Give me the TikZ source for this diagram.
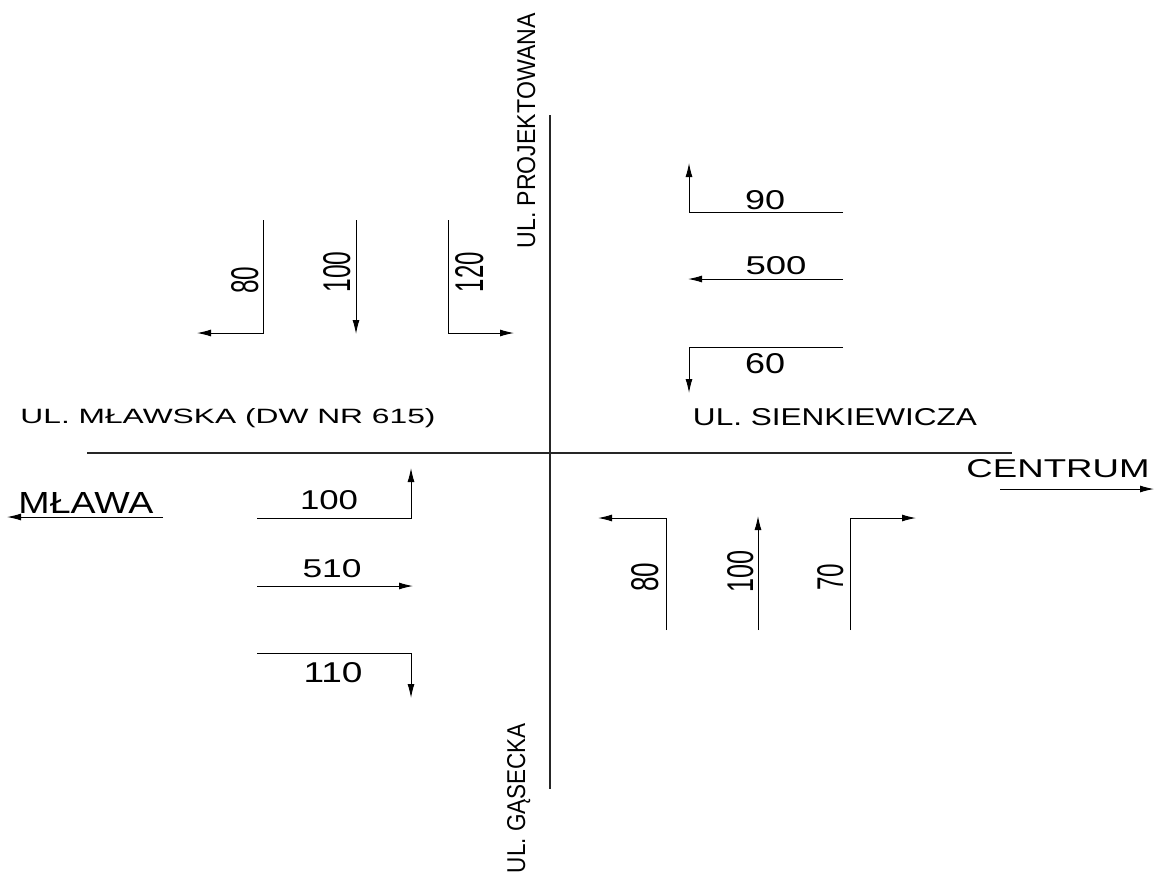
\documentclass[tikz,border=0pt]{standalone}
\usepackage{fontspec}
\setmainfont{Liberation Sans}
\usetikzlibrary{arrows.meta}
\newcommand{\lab}[3]{\resizebox{#1pt}{#2pt}{#3}}
\begin{document}
\begin{tikzpicture}[x=1pt,y=-1pt,
  road/.style={line width=1.1pt, black!85},
  mv/.style={line width=1pt, -{Latex[length=14pt,width=7pt]}},
  lbl/.style={inner sep=0pt, anchor=base},
  vlbl/.style={inner sep=0pt, anchor=base, rotate=90}]
\useasboundingbox (0,0) rectangle (1160,881);
\fill[white] (0,0) rectangle (1160,881);

% roads
\coordinate (nN) at (550,115); \coordinate (nS) at (550,789);
\coordinate (wW) at (87,453);  \coordinate (wE) at (1012,453);
\draw[road] (nN) -- (nS);
\draw[road] (wW) -- (wE);

% north approach
\coordinate (a1s) at (263,220); \coordinate (a1c) at (263,333); \coordinate (a1e) at (197,333);
\coordinate (a2s) at (356,220); \coordinate (a2e) at (356,334);
\coordinate (a3s) at (448,220); \coordinate (a3c) at (448,333); \coordinate (a3e) at (514,333);
\draw[mv] (a1s) -- (a1c) -- (a1e);
\draw[mv] (a2s) -- (a2e);
\draw[mv] (a3s) -- (a3c) -- (a3e);
\node[vlbl] (ta1) at (258,280) {\lab{27}{27}{80}};
\node[vlbl] (ta2) at (350,272) {\lab{41}{27}{100}};
\node[vlbl] (ta3) at (483,272) {\lab{40}{28}{120}};

% east approach
\coordinate (b1s) at (843,212); \coordinate (b1c) at (689,212); \coordinate (b1e) at (689,163);
\coordinate (b2s) at (843,279); \coordinate (b2e) at (688,279);
\coordinate (b3s) at (843,347); \coordinate (b3c) at (689,347); \coordinate (b3e) at (689,393);
\draw[mv] (b1s) -- (b1c) -- (b1e);
\draw[mv] (b2s) -- (b2e);
\draw[mv] (b3s) -- (b3c) -- (b3e);
\node[lbl] (tb1) at (765,209) {\lab{40}{19}{90}};
\node[lbl] (tb2) at (776,274) {\lab{61}{18}{500}};
\node[lbl] (tb3) at (765,373) {\lab{40}{20}{60}};

% west approach
\coordinate (c1s) at (257,518); \coordinate (c1c) at (411,518); \coordinate (c1e) at (411,468);
\coordinate (c2s) at (257,586); \coordinate (c2e) at (413,586);
\coordinate (c3s) at (257,653); \coordinate (c3c) at (411,653); \coordinate (c3e) at (411,698);
\draw[mv] (c1s) -- (c1c) -- (c1e);
\draw[mv] (c2s) -- (c2e);
\draw[mv] (c3s) -- (c3c) -- (c3e);
\node[lbl] (tc1) at (329,509) {\lab{58}{19}{100}};
\node[lbl] (tc2) at (332,577) {\lab{59}{18}{510}};
\node[lbl] (tc3) at (333,682) {\lab{59}{20}{110}};

% south approach
\coordinate (d1s) at (666,630); \coordinate (d1c) at (666,518); \coordinate (d1e) at (598,518);
\coordinate (d2s) at (758,630); \coordinate (d2e) at (758,516);
\coordinate (d3s) at (850,630); \coordinate (d3c) at (850,518); \coordinate (d3e) at (916,518);
\draw[mv] (d1s) -- (d1c) -- (d1e);
\draw[mv] (d2s) -- (d2e);
\draw[mv] (d3s) -- (d3c) -- (d3e);
\node[vlbl] (td1) at (658,577) {\lab{29}{27}{80}};
\node[vlbl] (td2) at (753,571) {\lab{42}{26}{100}};
\node[vlbl] (td3) at (843,577) {\lab{27}{26}{70}};

% street names
\node[lbl] (sW) at (228,423) {\lab{415}{15}{UL. MŁAWSKA (DW NR 615)}};
\node[lbl] (sE) at (835,425) {\lab{284}{17}{UL. SIENKIEWICZA}};
\node[vlbl] (sN) at (535,131) {\lab{235}{18}{UL. PROJEKTOWANA}};
\node[vlbl] (sS) at (525,798) {\lab{150}{18}{UL. GĄSECKA}};

% directions
\node[lbl] (dirW) at (86,513) {\lab{135}{21}{MŁAWA}};
\coordinate (mwS) at (163,517); \coordinate (mwE) at (7,517);
\draw[mv] (mwS) -- (mwE);
\node[lbl] (dirE) at (1058,477) {\lab{183}{18}{CENTRUM}};
\coordinate (ceS) at (1000,489); \coordinate (ceE) at (1154,489);
\draw[mv] (ceS) -- (ceE);
\end{tikzpicture}
\end{document}
